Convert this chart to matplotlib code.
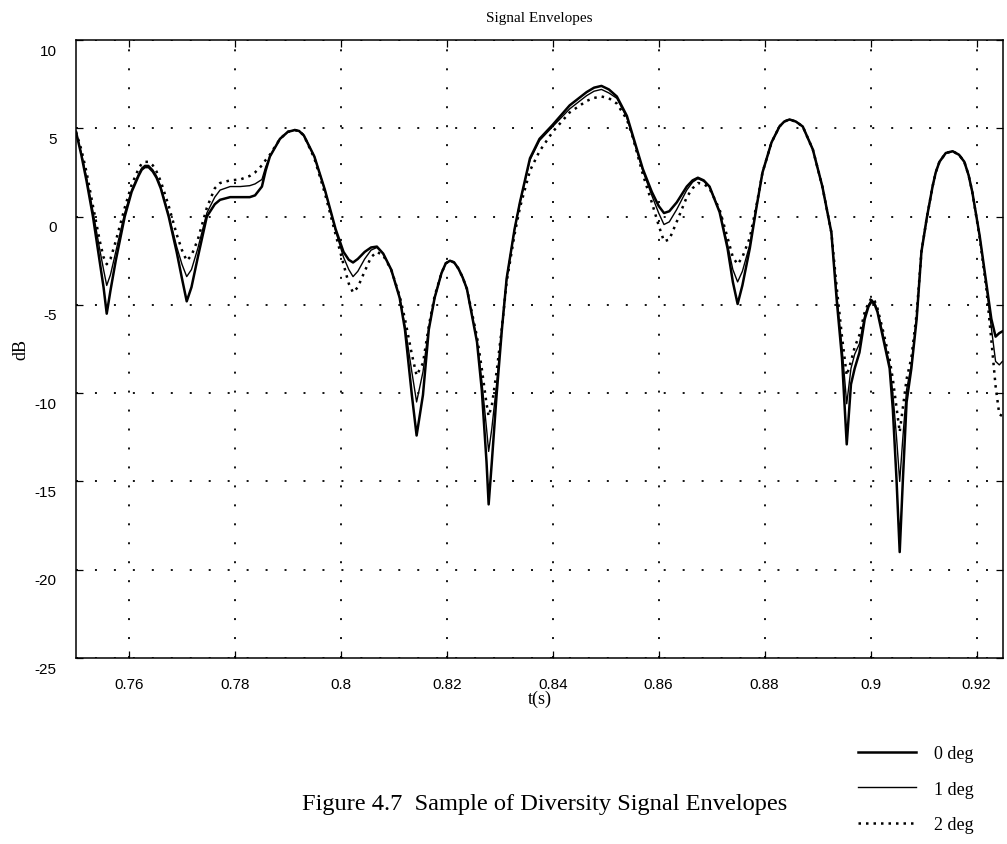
import matplotlib
matplotlib.use("Agg")
import matplotlib.pyplot as plt
import matplotlib.transforms as mtransforms

t = [0.7500, 0.7510, 0.7520, 0.7532, 0.7545, 0.7552, 0.7558, 0.7565, 0.7575, 0.7592,
     0.7605, 0.7618, 0.7624, 0.7630, 0.7637, 0.7645, 0.7652, 0.7660, 0.7675, 0.7690,
     0.7700, 0.7709, 0.7718, 0.7730, 0.7747, 0.7762, 0.7772, 0.7791, 0.7810, 0.7828,
     0.7838, 0.7851, 0.7858, 0.7866, 0.7885, 0.7900, 0.7913, 0.7921, 0.7930, 0.7950,
     0.7970, 0.7990, 0.8005, 0.8015, 0.8023, 0.8032, 0.8045, 0.8057, 0.8068, 0.8080,
     0.8095, 0.8111, 0.8121, 0.8134, 0.8143, 0.8155, 0.8166, 0.8177, 0.8190, 0.8198,
     0.8206, 0.8214, 0.8222, 0.8230, 0.8238, 0.8257, 0.8266, 0.8275, 0.8279, 0.8285,
     0.8294, 0.8304, 0.8313, 0.8328, 0.8338, 0.8357, 0.8375, 0.8400, 0.8432, 0.8464,
     0.8478, 0.8492, 0.8506, 0.8521, 0.8540, 0.8551, 0.8570, 0.8587, 0.8600, 0.8610,
     0.8620, 0.8634, 0.8653, 0.8664, 0.8674, 0.8685, 0.8696, 0.8715, 0.8730, 0.8740,
     0.8749, 0.8758, 0.8772, 0.8785, 0.8796, 0.8813, 0.8828, 0.8837, 0.8847, 0.8859,
     0.8872, 0.8891, 0.8909, 0.8926, 0.8936, 0.8946, 0.8955, 0.8963, 0.8970, 0.8979,
     0.8989, 0.8996, 0.9002, 0.9008, 0.9013, 0.9023, 0.9036, 0.9042, 0.9049, 0.9055,
     0.9061, 0.9068, 0.9077, 0.9087, 0.9096, 0.9106, 0.9117, 0.9123, 0.9130, 0.9142,
     0.9155, 0.9167, 0.9177, 0.9185, 0.9192, 0.9206, 0.9219, 0.9228, 0.9236, 0.9243,
     0.9249]

deg0 = [4.8, 3.5, 2.0, 0.0, -2.6, -4.0, -5.5, -4.2, -2.5, 0.0,
        1.4, 2.3, 2.65, 2.8, 2.8, 2.55, 2.2, 1.6, 0.0, -2.0,
        -3.5, -4.8, -4.0, -2.3, 0.0, 0.7, 0.95, 1.1, 1.1, 1.1,
        1.2, 1.7, 2.6, 3.4, 4.4, 4.8, 4.9, 4.85, 4.6, 3.4,
        1.5, -0.7, -2.0, -2.45, -2.6, -2.4, -2.0, -1.75, -1.7, -2.1,
        -3.0, -4.6, -6.4, -10.1, -12.4, -10.1, -6.4, -4.6, -3.2, -2.65,
        -2.5, -2.6, -2.95, -3.45, -4.1, -7.1, -9.8, -13.9, -16.3, -13.9,
        -10.1, -6.4, -3.5, -0.7, 0.8, 3.3, 4.4, 5.2, 6.3, 7.05,
        7.3, 7.4, 7.2, 6.8, 5.7, 4.6, 2.7, 1.4, 0.6, 0.2,
        0.3, 0.8, 1.7, 2.05, 2.2, 2.05, 1.7, 0.25, -1.8, -3.7,
        -4.95, -3.9, -1.8, 0.6, 2.5, 4.2, 5.1, 5.38, 5.5, 5.38,
        5.1, 3.8, 1.7, -0.9, -4.7, -8.0, -12.9, -9.5, -8.6, -7.7,
        -5.8, -5.1, -4.8, -5.0, -5.4, -6.8, -8.6, -10.9, -14.9, -19.0,
        -14.9, -10.5, -8.6, -5.8, -2.0, -0.1, 1.7, 2.5, 3.1, 3.6,
        3.7, 3.5, 3.1, 2.35, 1.4, -1.1, -3.9, -5.8, -6.8, -6.6,
        -6.5]

deg1 = [4.8, 3.6, 2.2, 0.3, -1.9, -3.0, -3.9, -3.3, -2.0, 0.2,
        1.5, 2.4, 2.75, 2.9, 2.9, 2.65, 2.3, 1.7, 0.1, -1.7,
        -2.7, -3.4, -3.0, -1.8, 0.2, 1.1, 1.5, 1.7, 1.7, 1.75,
        1.85, 2.1, 2.8, 3.4, 4.4, 4.8, 4.9, 4.85, 4.6, 3.4,
        1.5, -0.8, -2.3, -3.0, -3.4, -3.1, -2.4, -1.9, -1.75, -2.1,
        -3.0, -4.6, -6.2, -8.8, -10.5, -8.8, -6.3, -4.6, -3.2, -2.65,
        -2.5, -2.6, -2.95, -3.45, -4.1, -7.0, -9.3, -12.0, -13.3, -12.0,
        -9.5, -6.3, -3.5, -0.7, 0.8, 3.2, 4.3, 5.1, 6.1, 6.85,
        7.1, 7.2, 7.0, 6.7, 5.6, 4.5, 2.6, 1.2, 0.2, -0.45,
        -0.3, 0.4, 1.5, 1.95, 2.15, 2.0, 1.7, 0.3, -1.6, -3.0,
        -3.7, -3.1, -1.6, 0.6, 2.5, 4.2, 5.1, 5.38, 5.5, 5.38,
        5.1, 3.8, 1.7, -0.9, -4.4, -7.4, -10.6, -8.6, -7.8, -7.2,
        -5.6, -5.0, -4.7, -4.9, -5.3, -6.6, -8.4, -10.0, -12.5, -15.0,
        -12.5, -9.8, -8.4, -5.7, -2.0, -0.1, 1.7, 2.5, 3.1, 3.6,
        3.7, 3.5, 3.1, 2.35, 1.4, -1.1, -4.0, -6.3, -8.2, -8.4,
        -8.2]

deg2 = [4.8, 3.8, 2.5, 0.6, -1.4, -2.3, -2.7, -2.4, -1.4, 0.5,
        1.8, 2.7, 3.0, 3.1, 3.1, 2.9, 2.55, 2.0, 0.6, -1.0,
        -1.9, -2.5, -2.2, -1.3, 0.5, 1.6, 1.9, 2.05, 2.1, 2.3,
        2.5, 2.9, 3.2, 3.5, 4.4, 4.8, 4.9, 4.85, 4.6, 3.3,
        1.3, -1.0, -2.7, -3.8, -4.3, -4.0, -3.1, -2.3, -2.0, -2.2,
        -3.0, -4.5, -5.8, -7.8, -9.0, -8.3, -6.2, -4.5, -3.2, -2.65,
        -2.5, -2.6, -2.95, -3.45, -4.1, -6.8, -8.6, -10.6, -11.3, -10.7,
        -8.8, -6.3, -3.7, -1.0, 0.5, 2.6, 3.7, 4.8, 5.9, 6.55,
        6.72, 6.8, 6.7, 6.4, 5.5, 4.5, 2.4, 0.8, -0.5, -1.4,
        -1.3, -0.3, 1.1, 1.6, 1.9, 1.85, 1.6, 0.4, -1.2, -2.3,
        -2.7, -2.3, -1.2, 0.7, 2.5, 4.2, 5.1, 5.38, 5.5, 5.38,
        5.1, 3.8, 1.7, -0.9, -4.0, -6.8, -9.0, -8.2, -7.4, -6.7,
        -5.4, -4.9, -4.6, -4.8, -5.2, -6.4, -8.1, -9.2, -10.8, -12.2,
        -10.8, -9.2, -8.0, -5.5, -2.0, -0.1, 1.7, 2.5, 3.1, 3.6,
        3.7, 3.5, 3.1, 2.35, 1.4, -1.2, -4.2, -7.0, -9.6, -11.2,
        -11.3]

xticks = [0.76, 0.78, 0.80, 0.82, 0.84, 0.86, 0.88, 0.90, 0.92]
xtick_labels = ["0.76", "0.78", "0.8", "0.82", "0.84", "0.86", "0.88", "0.9", "0.92"]
yticks = [10, 5, 0, -5, -10, -15, -20, -25]
ytick_labels = ["10", "5", "0", "-5", "-10", "-15", "-20", "-25"]
series_labels = ["0 deg", "1 deg", "2 deg"]

SERIF = ["Liberation Serif", "DejaVu Serif"]
SANS = ["Liberation Sans", "DejaVu Sans"]

fig = plt.figure(figsize=(10.07, 8.45), dpi=100)
ax = fig.add_axes([76 / 1007, 1 - 659 / 845, (1003 - 76) / 1007, (659 - 41) / 845])

l0, = ax.plot(t, deg0, color="black", lw=1.8, solid_joinstyle="round")
l1, = ax.plot(t, deg1, color="black", lw=1.0, solid_joinstyle="round")
l2, = ax.plot(t, deg2, color="black", lw=1.8, linestyle=(0, (1, 2.0)))

ax.set_xlim(0.75, 0.925)
ax.set_ylim(-25, 10)
ax.set_xticks(xticks)
ax.set_xticklabels(xtick_labels, fontfamily=SANS, fontsize=11)
ax.set_yticks(yticks)
ax.set_yticklabels(ytick_labels, fontfamily=SANS, fontsize=11)
ax.tick_params(direction="in", top=True, right=True, length=5, width=0.9,
               colors="black")
ax.tick_params(axis="x", pad=14)
ax.tick_params(axis="y", pad=14)
off = mtransforms.ScaledTranslation(0, -9 / 100, fig.dpi_scale_trans)
for lab in ax.get_yticklabels():
    lab.set_transform(lab.get_transform() + off)

ax.grid(True, color="black", linestyle=(0, (1.1, 9.4)), linewidth=1.3)
for s in ax.spines.values():
    s.set_linewidth(1.1)

ax.set_title("Signal Envelopes", fontfamily=SERIF, fontsize=11, pad=14)
ax.set_xlabel("t(s)", fontfamily=SERIF, fontsize=13, labelpad=-1)
ax.set_ylabel("dB", fontfamily=SERIF, fontsize=13, labelpad=4)

fig.text(545 / 1007, 1 - 805 / 845, "Figure 4.7  Sample of Diversity Signal Envelopes",
         fontfamily=SERIF, fontsize=17.6, ha="center", va="center")

fig.legend([l0, l1, l2], series_labels, loc="upper left",
           bbox_to_anchor=(858 / 1007, 1 - 746 / 845), frameon=False,
           prop={"family": SERIF, "size": 13}, handlelength=3.2,
           handletextpad=1.0, labelspacing=1.03, borderpad=0, borderaxespad=0)

fig.savefig("out.png", dpi=100)
